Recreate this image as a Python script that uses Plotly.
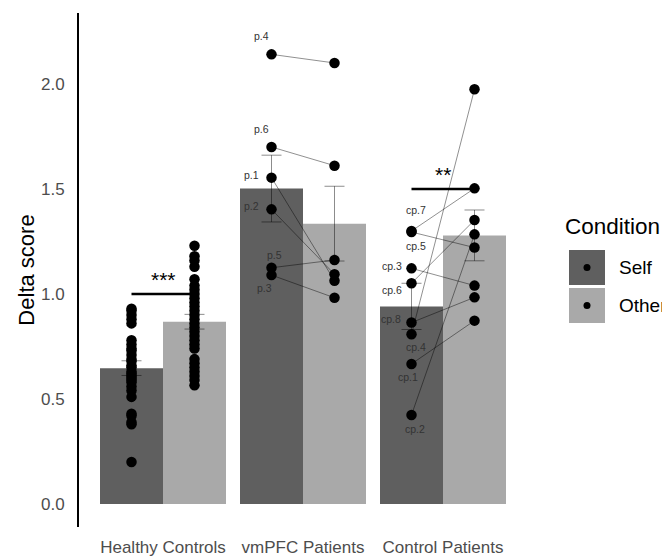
import plotly.graph_objects as go

# ---------------- data ----------------
groups = ["Healthy Controls", "vmPFC Patients", "Control Patients"]
conditions = ["Self", "Other"]
mean_self = [0.647, 1.502, 0.941]
mean_other = [0.868, 1.335, 1.279]
se_self = [0.035, 0.159, 0.110]
se_other = [0.035, 0.178, 0.121]

hc_self = [0.93, 0.92, 0.90, 0.88, 0.86,
           0.78, 0.76, 0.74, 0.73, 0.71, 0.69, 0.68, 0.66, 0.65, 0.63,
           0.62, 0.61, 0.60, 0.59, 0.58, 0.56, 0.54,
           0.51, 0.43, 0.42, 0.39, 0.38, 0.20]
hc_other = [1.23, 1.18, 1.16, 1.13, 1.07, 1.04, 1.02, 1.00, 0.98, 0.96,
            0.94, 0.92, 0.90, 0.88, 0.86, 0.84, 0.82, 0.80, 0.78, 0.76,
            0.74, 0.69, 0.67, 0.65, 0.63, 0.61, 0.59, 0.565]

vm_ids = ["p.1", "p.2", "p.3", "p.4", "p.5", "p.6"]
vm_self = [1.554, 1.403, 1.090, 2.141, 1.125, 1.700]
vm_other = [1.063, 1.094, 0.982, 2.100, 1.162, 1.611]

cp_ids = ["cp.1", "cp.2", "cp.3", "cp.4", "cp.5", "cp.6", "cp.7", "cp.8"]
cp_self = [0.667, 0.424, 1.122, 0.808, 1.295, 1.051, 1.300, 0.864]
cp_other = [0.873, 1.284, 1.040, 1.975, 1.221, 1.352, 1.503, 0.984]

sig_groups = ["Healthy Controls", "Control Patients"]
sig_y = [1.0, 1.5]
sig_text = ["***", "**"]

y_ticks = [0.0, 0.5, 1.0, 1.5, 2.0]

# ---------------- styling / layout constants ----------------
FONT = "Liberation Sans, Arial, sans-serif"
C_SELF = "#5f5f5f"
C_OTHER = "#a9a9a9"
DODGE = 0.225
BAR_W = 0.45
OFF = 8                      # default page (body) margin of the browser
W, H = 670 - OFF, 557 - OFF
L, R, T, B = 79 - OFF, 143, 13 - OFF, 30

# label offsets (px) relative to the Self point
label_off = {
    "p.4": (-10, -18), "p.6": (-10, -18), "p.1": (-20, -3), "p.2": (-20, -3),
    "p.5": (3, -13), "p.3": (-7, 13),
    "cp.7": (4, -21), "cp.5": (4, 14), "cp.3": (-20, -2), "cp.6": (-20, 7),
    "cp.8": (-21, -4), "cp.4": (4, 13), "cp.1": (-4, 13), "cp.2": (3, 14),
}

gpos = {g: i + 1 for i, g in enumerate(groups)}

fig = go.Figure()

err_col = "rgba(0,0,0,0.45)"
fig.add_trace(go.Bar(
    x=[gpos[g] - DODGE for g in groups], y=mean_self, width=BAR_W,
    marker=dict(color=C_SELF, line=dict(width=0)), name="Self",
    error_y=dict(type="data", array=se_self, color=err_col, thickness=1, width=10),
    showlegend=False))
fig.add_trace(go.Bar(
    x=[gpos[g] + DODGE for g in groups], y=mean_other, width=BAR_W,
    marker=dict(color=C_OTHER, line=dict(width=0)), name="Other",
    error_y=dict(type="data", array=se_other, color=err_col, thickness=1, width=10),
    showlegend=False))

# paired lines for patients
def add_pairs(group, ids, s_vals, o_vals):
    xs, ys = [], []
    for s, o in zip(s_vals, o_vals):
        xs += [gpos[group] - DODGE, gpos[group] + DODGE, None]
        ys += [s, o, None]
    fig.add_trace(go.Scatter(x=xs, y=ys, mode="lines",
                             line=dict(color="rgba(0,0,0,0.55)", width=0.8),
                             hoverinfo="skip", showlegend=False))

add_pairs("vmPFC Patients", vm_ids, vm_self, vm_other)
add_pairs("Control Patients", cp_ids, cp_self, cp_other)

# points
def add_points(group, s_vals, o_vals):
    xs = [gpos[group] - DODGE] * len(s_vals) + [gpos[group] + DODGE] * len(o_vals)
    fig.add_trace(go.Scatter(x=xs, y=list(s_vals) + list(o_vals), mode="markers",
                             marker=dict(color="black", size=10.5),
                             showlegend=False))

add_points("Healthy Controls", hc_self, hc_other)
add_points("vmPFC Patients", vm_self, vm_other)
add_points("Control Patients", cp_self, cp_other)

# patient labels
for ids, vals, g in [(vm_ids, vm_self, "vmPFC Patients"), (cp_ids, cp_self, "Control Patients")]:
    for pid, v in zip(ids, vals):
        dx, dy = label_off[pid]
        fig.add_annotation(x=gpos[g] - DODGE, y=v, text=pid, showarrow=False,
                           xshift=dx, yshift=-dy,
                           font=dict(family=FONT, size=10.5, color="#333333"))

# significance
for g, yv, txt in zip(sig_groups, sig_y, sig_text):
    fig.add_trace(go.Scatter(x=[gpos[g] - DODGE, gpos[g] + DODGE], y=[yv, yv],
                             mode="lines", line=dict(color="black", width=2.5),
                             hoverinfo="skip", showlegend=False))
    fig.add_annotation(x=gpos[g], y=yv, text=txt, showarrow=False, yshift=14,
                       font=dict(family=FONT, size=21, color="black"))

# custom legend (ggplot-like); pixel positions are page coordinates
def px(xp):
    return (xp - OFF - L) / (W - L - R)

def py(yp):
    return (H - B - (yp - OFF)) / (H - T - B)

fig.add_annotation(xref="paper", yref="paper", x=px(563), y=py(227), text="Condition",
                   showarrow=False, xanchor="left", yanchor="middle",
                   font=dict(family=FONT, size=22.5, color="black"))
for i, (cond, col) in enumerate(zip(conditions, [C_SELF, C_OTHER])):
    y0 = 250 + i * 38
    fig.add_shape(type="rect", xref="paper", yref="paper",
                  x0=px(569), x1=px(605), y0=py(y0 + 35), y1=py(y0),
                  fillcolor=col, line=dict(width=0), layer="above")
    fig.add_shape(type="circle", xref="paper", yref="paper",
                  x0=px(583.5), x1=px(590.5), y0=py(y0 + 21), y1=py(y0 + 14),
                  fillcolor="black", line=dict(width=0), layer="above")
    fig.add_annotation(xref="paper", yref="paper", x=px(617), y=py(y0 + 17.5), text=cond,
                       showarrow=False, xanchor="left", yanchor="middle",
                       font=dict(family=FONT, size=19, color="black"))

fig.update_layout(
    width=W, height=H,
    margin=dict(l=L, r=R, t=T, b=B, autoexpand=False),
    paper_bgcolor="white", plot_bgcolor="white",
    barmode="overlay",
    font=dict(family=FONT),
    xaxis=dict(range=[0.4, 3.6], tickvals=[gpos[g] for g in groups], ticktext=groups,
               showgrid=False, zeroline=False, showline=False, ticks="",
               tickfont=dict(family=FONT, size=17, color="#4d4d4d"),
               ticklabelstandoff=8),
    yaxis=dict(range=[-0.1095, 2.338], tickvals=y_ticks, tickformat=".1f",
               showgrid=False, zeroline=False, showline=True, linecolor="black",
               linewidth=2, ticks="", ticklabelstandoff=9,
               tickfont=dict(family=FONT, size=17, color="#4d4d4d"),
               title=dict(text="Delta score", standoff=0,
                          font=dict(family=FONT, size=22, color="black"))),
)

fig.write_html("out.html")
